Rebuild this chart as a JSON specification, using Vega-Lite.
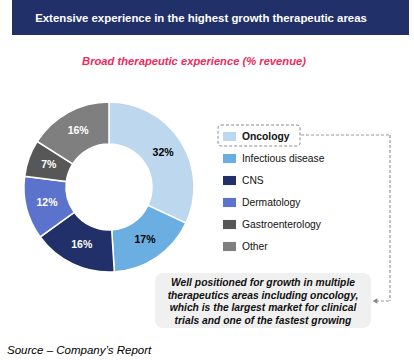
{
  "$schema": "https://vega.github.io/schema/vega-lite/v6.json",
  "width": 414,
  "height": 362,
  "padding": 0,
  "autosize": "none",
  "background": "white",
  "config": {"view": {"stroke": null}, "font": "Liberation Sans"},
  "datasets": {
    "share": [
      {"category": "Oncology", "value": 32, "label": "32%", "order": 1},
      {"category": "Infectious disease", "value": 17, "label": "17%", "order": 2},
      {"category": "CNS", "value": 16, "label": "16%", "order": 3},
      {"category": "Dermatology", "value": 12, "label": "12%", "order": 4},
      {"category": "Gastroenterology", "value": 7, "label": "7%", "order": 5},
      {"category": "Other", "value": 16, "label": "16%", "order": 6}
    ],
    "one": [{}]
  },
  "layer": [
    {
      "data": {"name": "one"},
      "mark": {"type": "rect", "x": 12, "x2": 409, "y": 0, "y2": 35, "fill": "#22306A"},
      "encoding": {}
    },
    {
      "data": {"name": "one"},
      "mark": {"type": "text", "x": 201, "y": 19, "text": "Extensive experience in the highest growth therapeutic areas", "color": "white", "fontWeight": "bold", "fontSize": 11.4, "align": "center", "baseline": "middle"},
      "encoding": {}
    },
    {
      "data": {"name": "one"},
      "mark": {"type": "text", "x": 194, "y": 62, "text": "Broad therapeutic experience (% revenue)", "color": "#EE2A5C", "fontWeight": "bold", "fontStyle": "italic", "fontSize": 11.2, "align": "center", "baseline": "middle"},
      "encoding": {}
    },
    {
      "data": {"name": "share"},
      "mark": {"type": "arc", "x": 109, "y": 187, "innerRadius": 43, "outerRadius": 85, "stroke": "white", "strokeWidth": 1.5},
      "encoding": {
        "theta": {"field": "value", "type": "quantitative", "stack": true},
        "order": {"field": "order"},
        "color": {
          "field": "category",
          "type": "nominal",
          "sort": ["Oncology", "Infectious disease", "CNS", "Dermatology", "Gastroenterology", "Other"],
          "scale": {
            "domain": ["Oncology", "Infectious disease", "CNS", "Dermatology", "Gastroenterology", "Other"],
            "range": ["#BDD7EE", "#6AAEE2", "#22306A", "#5B73CC", "#575757", "#7F7F7F"]
          },
          "legend": {
            "orient": "none",
            "legendX": 223,
            "legendY": 130,
            "title": null,
            "padding": 0,
            "symbolType": "M-1,-0.7H1V0.7H-1Z",
            "symbolSize": 169,
            "symbolStrokeWidth": 0,
            "labelFontSize": 10.3,
            "labelColor": "#111111",
            "labelFontWeight": {"expr": "datum.label === 'Oncology' ? 'bold' : 'normal'"},
            "labelOffset": 6,
            "rowPadding": 10
          }
        }
      }
    },
    {
      "data": {"name": "share"},
      "mark": {"type": "text", "x": 109, "y": 187, "radius": 64, "fontWeight": "bold", "fontSize": 10.5, "align": "center", "baseline": "middle"},
      "encoding": {
        "theta": {"field": "value", "type": "quantitative", "stack": true},
        "order": {"field": "order"},
        "text": {"field": "label"},
        "color": {"condition": {"test": "datum.category === 'Oncology' || datum.category === 'Infectious disease'", "value": "#000000"}, "value": "#FFFFFF"}
      }
    },
    {
      "data": {"name": "one"},
      "mark": {"type": "rect", "x": 218, "x2": 300, "y": 125, "y2": 146, "fillOpacity": 0, "stroke": "#8C8C8C", "strokeWidth": 1, "strokeDash": [3, 2], "cornerRadius": 3},
      "encoding": {}
    },
    {
      "data": {"name": "one"},
      "mark": {"type": "rule", "stroke": "#999999", "strokeWidth": 1.2, "strokeDash": [3, 2]},
      "encoding": {"x": {"value": 301}, "x2": {"value": 390}, "y": {"value": 135}, "y2": {"value": 135}}
    },
    {
      "data": {"name": "one"},
      "mark": {"type": "rule", "stroke": "#999999", "strokeWidth": 1.2, "strokeDash": [3, 2]},
      "encoding": {"x": {"value": 390}, "x2": {"value": 390}, "y": {"value": 135}, "y2": {"value": 301}}
    },
    {
      "data": {"name": "one"},
      "mark": {"type": "rule", "stroke": "#999999", "strokeWidth": 1.2, "strokeDash": [3, 2]},
      "encoding": {"x": {"value": 376}, "x2": {"value": 390}, "y": {"value": 301}, "y2": {"value": 301}}
    },
    {
      "data": {"name": "one"},
      "mark": {"type": "point", "shape": "triangle-left", "x": 375, "y": 301, "size": 30, "filled": true, "color": "#888888", "opacity": 1},
      "encoding": {}
    },
    {
      "data": {"name": "one"},
      "mark": {"type": "rect", "x": 155, "x2": 371, "y": 273, "y2": 328, "fill": "#F0F0F0", "cornerRadius": 8},
      "encoding": {}
    },
    {
      "data": {"name": "one"},
      "mark": {"type": "text", "x": 263, "y": 283, "text": ["Well positioned for growth in multiple", "therapeutics areas including oncology,", "which is the largest market for clinical", "trials and one of the fastest growing"], "lineHeight": 12.6, "color": "#111111", "fontWeight": "bold", "fontStyle": "italic", "fontSize": 10.3, "align": "center", "baseline": "middle"},
      "encoding": {}
    },
    {
      "data": {"name": "one"},
      "mark": {"type": "text", "x": 7, "y": 351, "text": "Source – Company’s Report", "color": "#000000", "fontStyle": "italic", "fontSize": 11.5, "align": "left", "baseline": "middle"},
      "encoding": {}
    }
  ]
}
